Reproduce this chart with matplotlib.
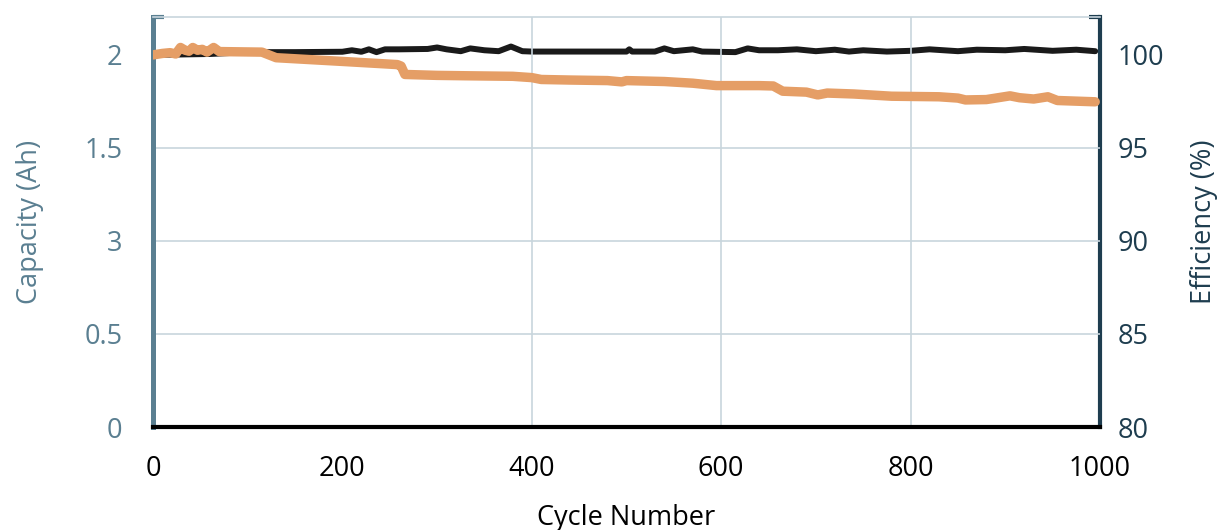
import matplotlib
matplotlib.use("Agg")
import matplotlib.pyplot as plt

# ---- data ----
cap_cycles = [0, 10, 18, 24, 29, 34, 38, 42, 47, 52, 57, 64, 70, 115, 130, 200, 258, 262,
              266, 300, 330, 380, 400, 410, 440, 480, 495, 500, 540, 570, 595, 640, 655,
              665, 690, 702, 712, 740, 780, 830, 850, 858, 880, 905, 915, 930, 945, 955, 995]
capacity = [2.00, 2.008, 2.012, 2.005, 2.04, 2.025, 2.02, 2.04, 2.025, 2.03, 2.015, 2.04, 2.018,
            2.015, 1.985, 1.965, 1.948, 1.94, 1.895, 1.89, 1.888, 1.885, 1.878, 1.868, 1.865,
            1.862, 1.855, 1.862, 1.857, 1.848, 1.835, 1.835, 1.833, 1.805, 1.80, 1.785, 1.795,
            1.79, 1.778, 1.775, 1.768, 1.758, 1.76, 1.78, 1.77, 1.763, 1.775, 1.755, 1.748]

eff_cycles = [0, 60, 100, 150, 200, 210, 220, 228, 236, 245, 260, 290, 300, 310, 325, 335,
              350, 365, 378, 390, 400, 500, 503, 506, 530, 540, 550, 570, 580, 615, 628, 640,
              660, 680, 700, 720, 735, 750, 775, 800, 820, 850, 870, 900, 920, 950, 975, 995]
efficiency = [100.0, 100.05, 100.15, 100.15, 100.17, 100.25, 100.17, 100.3, 100.15, 100.3,
              100.3, 100.32, 100.4, 100.3, 100.2, 100.35, 100.25, 100.2, 100.45, 100.2, 100.18,
              100.18, 100.3, 100.18, 100.18, 100.35, 100.2, 100.3, 100.18, 100.15, 100.35,
              100.25, 100.25, 100.3, 100.2, 100.28, 100.18, 100.25, 100.18, 100.22, 100.3,
              100.2, 100.28, 100.25, 100.32, 100.22, 100.28, 100.2]

x_ticks = [0, 200, 400, 600, 800, 1000]
left_ticks = [0, 0.5, 1, 1.5, 2]
left_labels = ["0", "0.5", "3", "1.5", "2"]
right_ticks = [80, 85, 90, 95, 100]

# ---- style ----
plt.rcParams['font.family'] = ['Open Sans', 'DejaVu Sans']
LEFT_C = "#5a7f91"
RIGHT_C = "#1e3d4f"
GRID_C = "#c8d5dd"
ORANGE = "#e59e66"
FS = 19.5

fig = plt.figure(figsize=(12.29, 5.30), dpi=100)
ax = fig.add_axes([0.1245, 0.1943, 0.7705, 0.7737])
ax2 = ax.twinx()

ax.set_xlim(0, 1000)
ax.set_ylim(0, 2.204)
ax2.set_ylim(80, 102.04)

# gridlines
for y in [0.5, 1.0, 1.5]:
    ax.axhline(y, color=GRID_C, lw=1.2, zorder=0)
for x in [400, 600, 800]:
    ax.axvline(x, color=GRID_C, lw=1.2, zorder=0)

# lines
ax2.plot(eff_cycles, efficiency, color="#1a1a1a", lw=4.3, solid_capstyle="round", zorder=2)
ax.plot(cap_cycles, capacity, color=ORANGE, lw=6.8, solid_capstyle="round", zorder=3)
ax.set_zorder(ax2.get_zorder() + 1)
ax.patch.set_visible(False)

# spines
for s in ["top", "right", "left", "bottom"]:
    ax.spines[s].set_visible(False)
    ax2.spines[s].set_visible(False)
ax.spines["left"].set_visible(True)
ax.spines["left"].set_color(LEFT_C)
ax.spines["left"].set_linewidth(3.6)
ax.spines["bottom"].set_visible(True)
ax.spines["bottom"].set_color("black")
ax.spines["bottom"].set_linewidth(3)
ax.spines["top"].set_visible(True)
ax.spines["top"].set_color(GRID_C)
ax.spines["top"].set_linewidth(1.2)
ax2.spines["right"].set_visible(True)
ax2.spines["right"].set_color(RIGHT_C)
ax2.spines["right"].set_linewidth(3)

# x ticks
ax.set_xticks(x_ticks)
ax.set_xticklabels([str(v) for v in x_ticks])
ax.tick_params(axis="x", which="major", length=0, pad=20, labelsize=FS, labelcolor="black")
ax.set_xticks([200, 400, 600, 800], minor=True)
ax.tick_params(axis="x", which="minor", direction="in", length=8, width=3, color="black")

# left ticks
ax.set_yticks(left_ticks)
ax.set_yticklabels(left_labels)
ax.tick_params(axis="y", which="major", length=0, pad=22, labelsize=FS, labelcolor=LEFT_C)
ax.set_yticks([0.5, 1.0, 1.5, 2.204], minor=True)
ax.tick_params(axis="y", which="minor", direction="in", length=8, width=3, color=LEFT_C)

# right ticks
ax2.set_yticks(right_ticks)
ax2.tick_params(axis="y", which="major", length=0, pad=13, labelsize=FS, labelcolor=RIGHT_C)
ax2.set_yticks([85, 90, 95, 102.04], minor=True)
ax2.tick_params(axis="y", which="minor", direction="in", length=8, width=3, color=RIGHT_C)

ax.set_xlabel("Cycle Number", fontsize=FS, color="black", labelpad=15)
ax.set_ylabel("Capacity (Ah)", fontsize=FS, color=LEFT_C, labelpad=29)
ax2.set_ylabel("Efficiency (%)", fontsize=FS, color=RIGHT_C, labelpad=18)

fig.savefig("out.png", dpi=100)
